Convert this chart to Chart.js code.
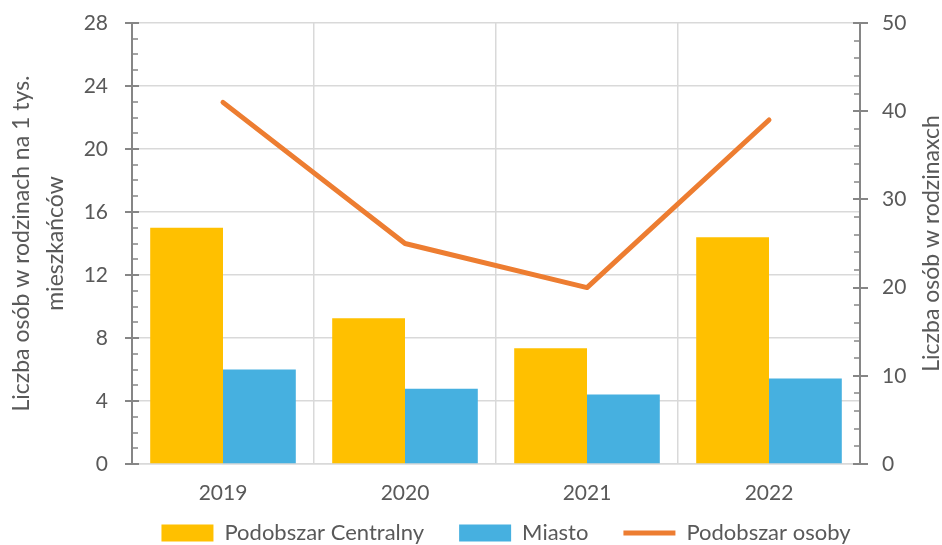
<!DOCTYPE html>
<html>
<head>
<meta charset="utf-8">
<script src="https://cdn.jsdelivr.net/npm/chart.js@4.4.0/dist/chart.umd.min.js"></script>
<style>body{margin:0;background:#fff}</style>
</head>
<body>
<canvas id="chart" width="942" height="545"></canvas>
<script>
// data
var years = ['2019', '2020', '2021', '2022'];
var centralny = [15.0, 9.25, 7.35, 14.4];
var miasto = [6.0, 4.78, 4.41, 5.43];
var osoby = [41, 25, 20, 39];
var leftTicks = [0, 4, 8, 12, 16, 20, 24, 28];
var rightTicks = [0, 10, 20, 30, 40, 50];
var rightTitle = 'Liczba osób w rodzinaxch';

var grey = '#595959';
var axisGrey = '#868686';
Chart.defaults.font.family = 'Lato';
Chart.defaults.font.size = 21;
Chart.defaults.color = grey;

// excel style tick marks: major cross the axis, minor on the inside
var tickMarks = {
    id: 'tickMarks',
    afterLayout: function(chart) {
        // legend sits centred under the plot area, row centre near y=533
        var lg = chart.legend;
        var shift = (chart.chartArea.left + chart.chartArea.right) / 2 - (lg.left + lg.right) / 2 + 10;
        lg.left += shift; lg.right += shift;
        var h = lg.height;
        lg.top = 533 - 35 - 11;
        lg.bottom = lg.top + h;
    },
    afterDraw: function(chart) {
        var ctx = chart.ctx;
        var y = chart.scales.y, y1 = chart.scales.y1;
        var xl = y.right, xr = y1.left;
        ctx.save();
        ctx.strokeStyle = axisGrey;
        for (var v = 0; v <= 28; v++) {
            var py = Math.round(y.getPixelForValue(v));
            ctx.beginPath();
            if (v % 4 === 0) { ctx.lineWidth = 2; ctx.moveTo(xl - 7, py); ctx.lineTo(xl + 7, py); }
            else { ctx.lineWidth = 1.5; ctx.moveTo(xl, py); ctx.lineTo(xl + 6, py); }
            ctx.stroke();
        }
        for (var w = 0; w <= 50; w += 2) {
            var qy = Math.round(y1.getPixelForValue(w));
            ctx.beginPath();
            if (w % 10 === 0) { ctx.lineWidth = 2; ctx.moveTo(xr - 7, qy); ctx.lineTo(xr + 8, qy); }
            else { ctx.lineWidth = 1.5; ctx.moveTo(xr - 6, qy); ctx.lineTo(xr, qy); }
            ctx.stroke();
        }
        // right axis title reads bottom to top
        ctx.translate(932, (y1.top + y1.bottom) / 2);
        ctx.rotate(-Math.PI / 2);
        ctx.fillStyle = grey;
        ctx.font = '23px Lato';
        ctx.textAlign = 'center';
        ctx.textBaseline = 'middle';
        ctx.fillText(rightTitle, 0, 0);
        ctx.restore();
    }
};

var ctx = document.getElementById('chart').getContext('2d');
var myChart = new Chart(ctx, {
    type: 'bar',
    data: {
        labels: years,
        datasets: [{
            label: 'Podobszar Centralny',
            data: centralny,
            backgroundColor: '#FFC000',
            yAxisID: 'y',
            order: 1
        }, {
            label: 'Miasto',
            data: miasto,
            backgroundColor: '#46B0E0',
            yAxisID: 'y',
            order: 1
        }, {
            type: 'line',
            label: 'Podobszar osoby',
            data: osoby,
            borderColor: '#ED7D31',
            backgroundColor: '#ED7D31',
            borderWidth: 5,
            borderCapStyle: 'round',
            borderJoinStyle: 'round',
            pointRadius: 0,
            tension: 0,
            yAxisID: 'y1',
            order: 0
        }]
    },
    options: {
        responsive: false,
        animation: false,
        layout: { padding: { top: 23, left: 0, right: 0, bottom: -32 } },
        datasets: { bar: { categoryPercentage: 0.8, barPercentage: 1.0 } },
        plugins: {
            tooltip: { enabled: false },
            legend: {
                position: 'bottom',
                labels: {
                    usePointStyle: true,
                    pointStyleWidth: 52,
                    boxHeight: 17,
                    padding: 35,
                    color: grey,
                    font: { size: 22 },
                    sort: function(a, b) { return a.datasetIndex - b.datasetIndex; },
                    generateLabels: function(chart) {
                        var items = Chart.defaults.plugins.legend.labels.generateLabels(chart);
                        items.forEach(function(it) {
                            it.pointStyle = it.datasetIndex === 2 ? 'line' : 'rect';
                            if (it.datasetIndex !== 2) it.lineWidth = 0;
                        });
                        return items;
                    }
                }
            }
        },
        scales: {
            x: {
                offset: true,
                grid: { offset: true, color: '#D9D9D9', lineWidth: 1.5, drawTicks: false },
                border: { color: '#D9D9D9', width: 1.5 },
                ticks: { padding: 17, color: grey },
                afterFit: function(s) { s.height = 46; }
            },
            y: {
                position: 'left',
                min: leftTicks[0],
                max: leftTicks[leftTicks.length - 1],
                afterBuildTicks: function(s) { s.ticks = leftTicks.map(function(v) { return { value: v }; }); },
                grid: { color: '#D9D9D9', lineWidth: 1.5, drawTicks: false },
                border: { color: axisGrey, width: 2 },
                ticks: { padding: 24, color: grey },
                title: {
                    display: true,
                    text: ['Liczba osób w rodzinach na 1 tys.', 'mieszkańców'],
                    color: grey,
                    font: { size: 23, lineHeight: 1.48 },
                    padding: { top: 5, bottom: 0 }
                },
                afterFit: function(s) { s.width = 132; s.paddingTop = 0; s.paddingBottom = 0; }
            },
            y1: {
                position: 'right',
                min: rightTicks[0],
                max: rightTicks[rightTicks.length - 1],
                afterBuildTicks: function(s) { s.ticks = rightTicks.map(function(v) { return { value: v }; }); },
                grid: { display: false, drawTicks: false },
                border: { color: axisGrey, width: 2 },
                ticks: { padding: 22, color: grey },
                afterFit: function(s) { s.width = 82; s.paddingTop = 0; s.paddingBottom = 0; }
            }
        }
    },
    plugins: [tickMarks]
});
</script>
</body>
</html>
